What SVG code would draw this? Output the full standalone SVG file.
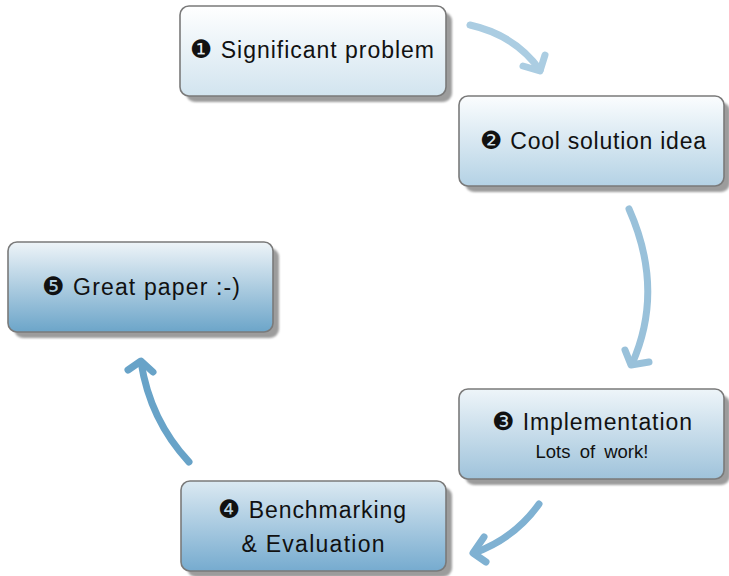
<svg xmlns="http://www.w3.org/2000/svg" width="729" height="576" viewBox="0 0 729 576">
<defs>
<linearGradient id="g1" x1="0" y1="0" x2="0" y2="1"><stop offset="0" stop-color="#ffffff"/><stop offset="1" stop-color="#d2e4ef"/></linearGradient>
<linearGradient id="g2" x1="0" y1="0" x2="0" y2="1"><stop offset="0" stop-color="#fbfdfe"/><stop offset="1" stop-color="#b4d2e5"/></linearGradient>
<linearGradient id="g3" x1="0" y1="0" x2="0" y2="1"><stop offset="0" stop-color="#eef5f9"/><stop offset="1" stop-color="#9fc3db"/></linearGradient>
<linearGradient id="g4" x1="0" y1="0" x2="0" y2="1"><stop offset="0" stop-color="#dbe9f2"/><stop offset="1" stop-color="#76abcf"/></linearGradient>
<linearGradient id="g5" x1="0" y1="0" x2="0" y2="1"><stop offset="0" stop-color="#eef4f8"/><stop offset="1" stop-color="#6ca5c9"/></linearGradient>
<filter id="blur" x="-10%" y="-10%" width="120%" height="120%"><feGaussianBlur stdDeviation="1.2"/></filter>
</defs>
<style>
.shadow{fill:#9c9c9c;filter:url(#blur)}
.box{stroke:#7a7a7a;stroke-width:1.6}
.t{font-family:"Liberation Sans","DejaVu Sans",sans-serif;font-size:23px;fill:#111;text-anchor:middle}
.d{font-family:"DejaVu Sans",sans-serif;font-size:25px}
.s{font-size:18.5px;word-spacing:4px}
.c{fill:none;stroke-width:7;stroke-linecap:round;stroke-linejoin:round}
</style>
<g id="connectors">
<path class="c" stroke="#abcde2" d="M470,25 Q515,35 540,70"/>
<path class="c" stroke="#abcde2" d="M523,66 L540,71 L545,55"/>
<path class="c" stroke="#99c1da" d="M629,209 Q665,290 632,364"/>
<path class="c" stroke="#99c1da" d="M625,350 L631,365 L649,362"/>
<path class="c" stroke="#7fb1d2" d="M539,504 Q515,538 474,553"/>
<path class="c" stroke="#7fb1d2" d="M484,537 L473,553 L486,562"/>
<path class="c" stroke="#68a3c8" d="M189,462 Q150,420 141,362"/>
<path class="c" stroke="#68a3c8" d="M128,370 L141,361 L153,372"/>
</g>
<g id="node1">
<rect class="shadow" x="186" y="12" width="266" height="90" rx="9"/>
<rect class="box" fill="url(#g1)" x="180" y="6" width="266" height="90" rx="9"/>
<text class="t" x="312" y="58" textLength="244" lengthAdjust="spacing"><tspan class="d">❶</tspan> Significant problem</text>
</g>
<g id="node2">
<rect class="shadow" x="465" y="102" width="265" height="90" rx="9"/>
<rect class="box" fill="url(#g2)" x="459" y="96" width="265" height="90" rx="9"/>
<text class="t" x="593" y="149" textLength="226" lengthAdjust="spacing"><tspan class="d">❷</tspan> Cool solution idea</text>
</g>
<g id="node3">
<rect class="shadow" x="465" y="395" width="265" height="90" rx="9"/>
<rect class="box" fill="url(#g3)" x="459" y="389" width="265" height="90" rx="9"/>
<text class="t" x="592" y="430" textLength="200" lengthAdjust="spacing"><tspan class="d">❸</tspan> Implementation</text>
<text class="t s" x="592" y="458">Lots of work!</text>
</g>
<g id="node4">
<rect class="shadow" x="187" y="487" width="265" height="90" rx="9"/>
<rect class="box" fill="url(#g4)" x="181" y="481" width="265" height="90" rx="9"/>
<text class="t" x="312" y="518" textLength="188" lengthAdjust="spacing"><tspan class="d">❹</tspan> Benchmarking</text>
<text class="t" x="313" y="552" textLength="143" lengthAdjust="spacing">&amp; Evaluation</text>
</g>
<g id="node5">
<rect class="shadow" x="14" y="248" width="265" height="90" rx="9"/>
<rect class="box" fill="url(#g5)" x="8" y="242" width="265" height="90" rx="9"/>
<text class="t" x="141" y="295" textLength="198" lengthAdjust="spacing"><tspan class="d">❺</tspan> Great paper :-)</text>
</g>
</svg>
